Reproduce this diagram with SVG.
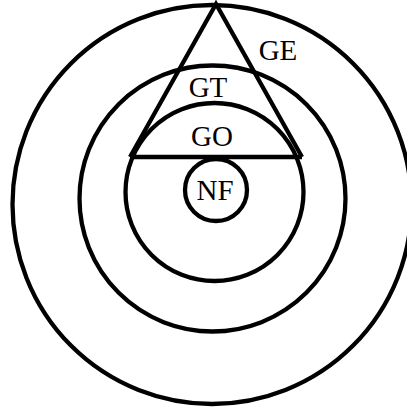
<svg xmlns="http://www.w3.org/2000/svg" width="407" height="407" viewBox="0 0 407 407">
<style>
.c{fill:none;stroke:#000;stroke-width:4.3}
.t{font-family:"Liberation Serif","Times New Roman",serif;font-size:29px;fill:#000;text-anchor:middle}
</style>
<rect width="407" height="407" fill="#fff"/>
<g id="GE"><circle class="c" cx="212" cy="204.5" r="199.5"/><text class="t" x="278" y="60">GE</text></g>
<g id="GT"><circle class="c" cx="212.5" cy="198.5" r="133"/><text class="t" x="208" y="97">GT</text></g>
<g id="GO"><circle class="c" cx="214.5" cy="192" r="89"/><text class="t" x="212" y="146">GO</text></g>
<g id="NF"><circle class="c" cx="216" cy="190" r="31"/><text class="t" x="215" y="200">NF</text></g>
<g id="connectors">
<polyline class="c" points="130,157 216,4 302,157" stroke-linejoin="miter"/>
<line class="c" x1="130" y1="157" x2="302" y2="157"/>
</g>
</svg>
